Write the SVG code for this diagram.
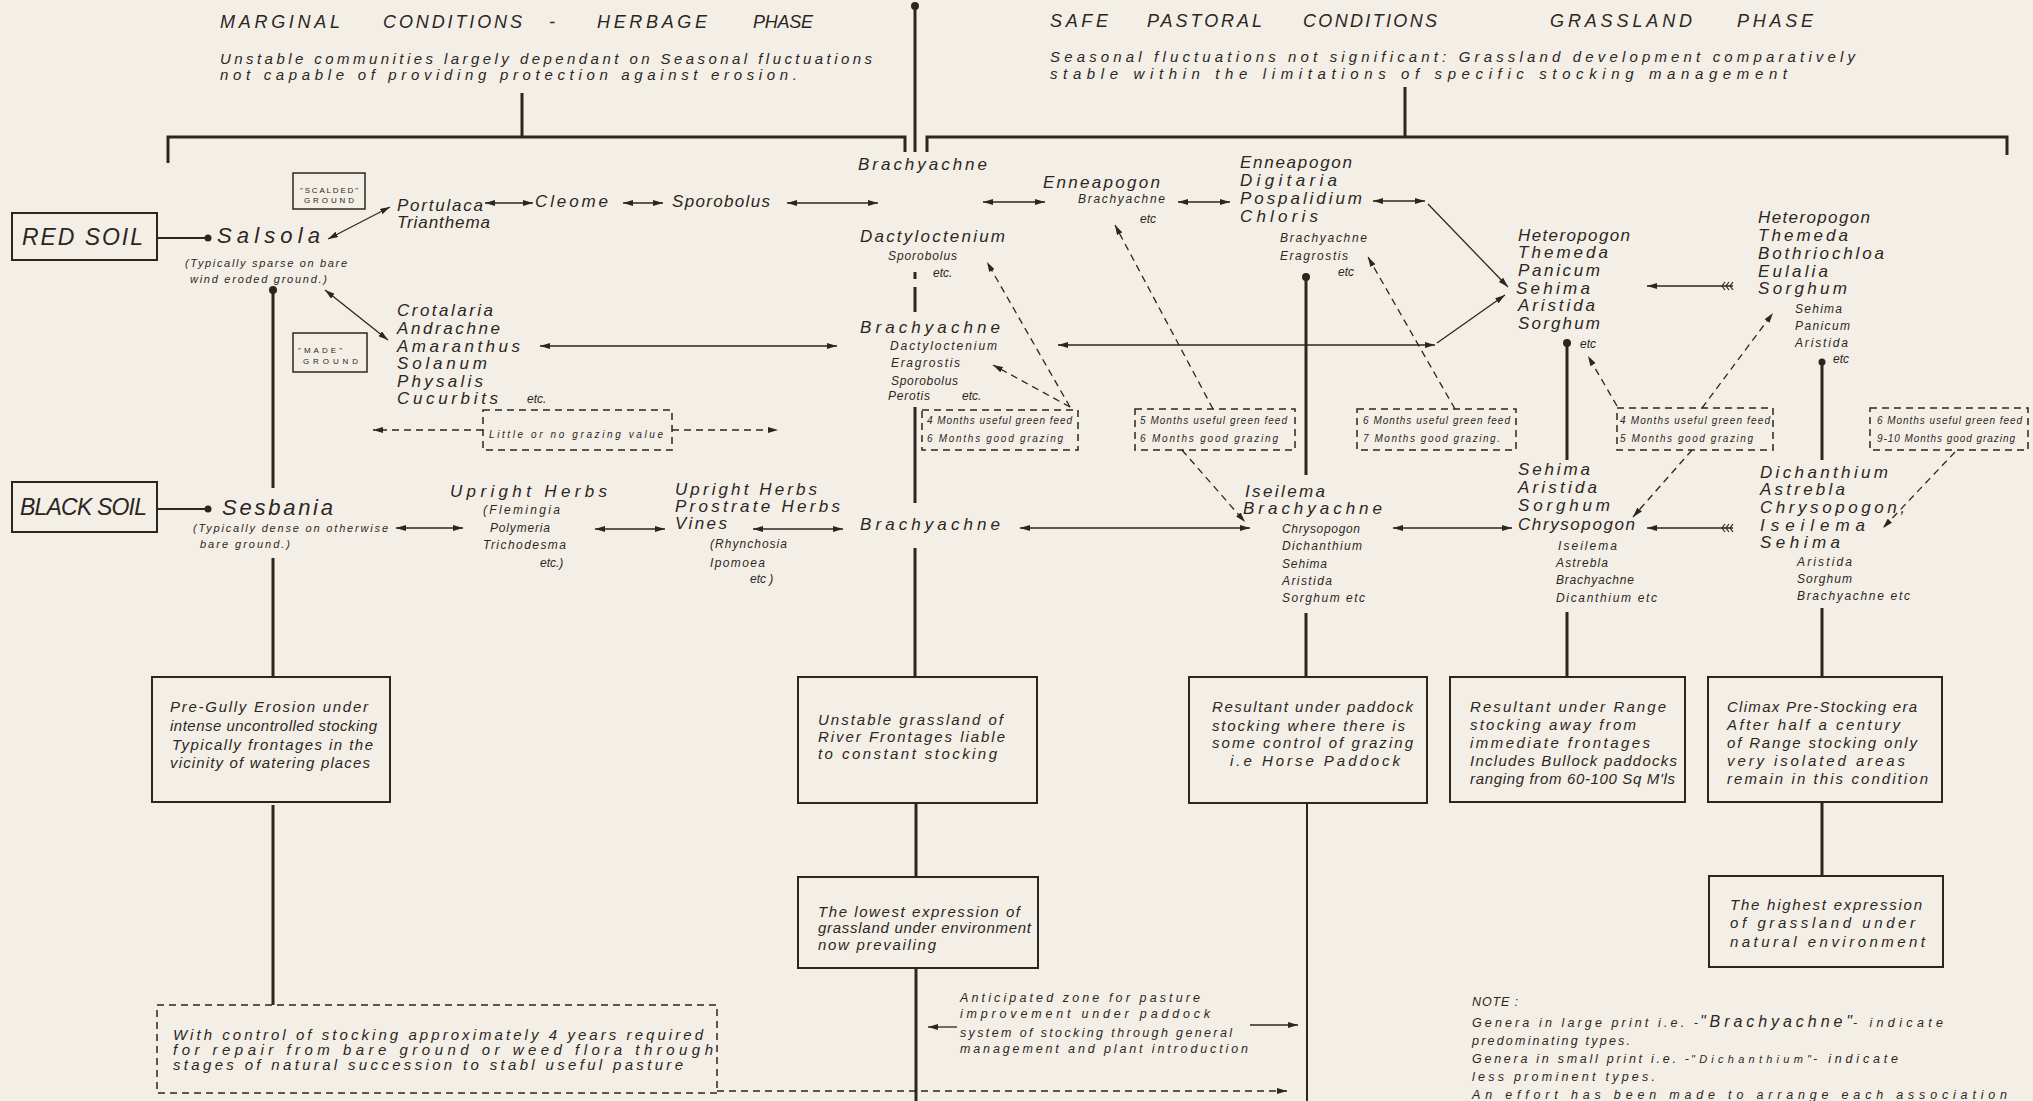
<svg xmlns="http://www.w3.org/2000/svg" width="2033" height="1101" viewBox="0 0 2033 1101">
<defs>
<style>
text{font-family:"Liberation Sans",Arial,sans-serif;font-style:italic;fill:#2b261f}
.hd{font-size:18px}
.sub{font-size:15px}
.soil{font-size:23px}
.big{font-size:22px}
.L{font-size:17px}
.S{font-size:12px}
.xs{font-size:11px}
.bx{font-size:15px}
.m{font-size:10px}
.tiny{font-size:8px;font-style:normal}
.n{font-size:12.5px}
.ln{fill:none;stroke:#2b261f}
.thick{stroke-width:3}
.med{stroke-width:2}
.thin{stroke-width:1.3}
.dash{stroke-dasharray:7 5}
.box{fill:none;stroke:#2b261f;stroke-width:2}
.sbox{fill:none;stroke:#2b261f;stroke-width:1.5}
.dbox{fill:none;stroke:#2b261f;stroke-width:1.5;stroke-dasharray:7 5}
.dot{fill:#2b261f}
.a2{marker-start:url(#ah);marker-end:url(#ah)}
.a1{marker-end:url(#ah)}
.fe{marker-start:url(#fe);marker-end:url(#ah)}
</style>
<marker id="ah" viewBox="0 0 10 6" refX="10" refY="3" markerWidth="10" markerHeight="6" markerUnits="userSpaceOnUse" orient="auto-start-reverse"><path d="M0,0 L10,3 L0,6 z" fill="#2b261f"/></marker>
<marker id="fe" viewBox="-1 -5 14 10" refX="0" refY="0" markerWidth="14" markerHeight="10" markerUnits="userSpaceOnUse" orient="auto"><path d="M0,-4 L3,0 L0,4 M4,-4 L7,0 L4,4 M8,-4 L11,0 L8,4" fill="none" stroke="#2b261f" stroke-width="1.2"/></marker>
</defs>
<rect width="2033" height="1101" fill="#f4efe6"/>

<g id="connectors">
<path class="ln thick" d="M168,163 V137 H905 V152"/>
<path class="ln thick" d="M522,93 V137"/>
<path class="ln thick" d="M915,6 V152"/>
<circle class="dot" cx="915" cy="6" r="4"/>
<path class="ln thick" d="M927,152 V137 H2007 V155"/>
<path class="ln thick" d="M1405,87 V137"/>
<path class="ln med" d="M157,238 H205"/>
<circle class="dot" cx="208" cy="238" r="3.5"/>
<path class="ln med" d="M157,509 H205"/>
<circle class="dot" cx="208" cy="509" r="3.5"/>
<path class="ln thick" d="M273,290 V488 M273,558 V677 M273,805 V1005"/>
<circle class="dot" cx="273" cy="290" r="4"/>
<path class="ln thick" d="M915,272 V279 M915,287 V312 M915,407 V503 M915,548 V677 M916,803 V877 M916,968 V1101"/>
<path class="ln thick" d="M1306,277 V475 M1306,613 V677"/>
<path class="ln med" d="M1307,803 V1101"/>
<circle class="dot" cx="1306" cy="277" r="4"/>
<path class="ln thick" d="M1567,343 V460 M1567,612 V677"/>
<circle class="dot" cx="1567" cy="343" r="4"/>
<path class="ln thick" d="M1822,362 V460 M1822,608 V677 M1822,802 V876"/>
<circle class="dot" cx="1822" cy="362" r="3.5"/>
<path class="ln thin a2" d="M328,239 L390,207"/>
<path class="ln thin a2" d="M485,203 H533"/>
<path class="ln thin a2" d="M623,203 H663"/>
<path class="ln thin a2" d="M787,203 H878"/>
<path class="ln thin a2" d="M983,202 H1045"/>
<path class="ln thin a2" d="M1178,202 H1230"/>
<path class="ln thin a2" d="M1373,201 H1425"/>
<path class="ln thin a1" d="M1428,204 L1508,287"/>
<path class="ln thin a2" d="M325,290 L388,340"/>
<path class="ln thin a2" d="M540,346 H837"/>
<path class="ln thin a2" d="M1058,345 H1435"/>
<path class="ln thin a1" d="M1437,343 L1505,295"/>
<path class="ln thin fe" d="M1733,286 H1647"/>
<path class="ln thin a2" d="M396,528 H463"/>
<path class="ln thin a2" d="M595,529 H665"/>
<path class="ln thin a2" d="M753,529 H843"/>
<path class="ln thin a2" d="M1020,528 H1250"/>
<path class="ln thin a2" d="M1393,528 H1512"/>
<path class="ln thin fe" d="M1733,528 H1647"/>
<path class="ln thin a1" d="M957,1027 H928"/>
<path class="ln thin a1" d="M1250,1025 H1298"/>
<path class="ln thin dash a1" d="M483,430 H373"/>
<path class="ln thin dash a1" d="M672,430 H778"/>
<path class="ln thin dash a1" d="M717,1091 H1287"/>
<path class="ln thin dash a1" d="M1070,407 L987,262"/>
<path class="ln thin dash a1" d="M1070,407 L993,365"/>
<path class="ln thin dash a1" d="M1213,409 L1115,225"/>
<path class="ln thin dash a1" d="M1182,450 L1245,522"/>
<path class="ln thin dash a1" d="M1455,409 L1368,257"/>
<path class="ln thin dash a1" d="M1617,406 L1588,356"/>
<path class="ln thin dash a1" d="M1702,408 L1773,313"/>
<path class="ln thin dash a1" d="M1692,450 L1633,517"/>
<path class="ln thin dash a1" d="M1955,452 L1883,528"/>
</g>

<g id="header-left">
<text class="hd" x="220" y="28" textLength="120" lengthAdjust="spacing">MARGINAL</text>
<text class="hd" x="383" y="28" textLength="139" lengthAdjust="spacing">CONDITIONS</text>
<text class="hd" x="549" y="28">-</text>
<text class="hd" x="597" y="28" textLength="110" lengthAdjust="spacing">HERBAGE</text>
<text class="hd" x="753" y="28" textLength="60" lengthAdjust="spacing">PHASE</text>
<text class="sub" x="220" y="64" textLength="652" lengthAdjust="spacing">Unstable communities largely dependant on Seasonal fluctuations</text>
<text class="sub" x="220" y="80" textLength="577" lengthAdjust="spacing">not capable of providing protection against erosion.</text>
</g>
<g id="header-right">
<text class="hd" x="1050" y="27" textLength="58" lengthAdjust="spacing">SAFE</text>
<text class="hd" x="1147" y="27" textLength="115" lengthAdjust="spacing">PASTORAL</text>
<text class="hd" x="1303" y="27" textLength="134" lengthAdjust="spacing">CONDITIONS</text>
<text class="hd" x="1550" y="27" textLength="142" lengthAdjust="spacing">GRASSLAND</text>
<text class="hd" x="1737" y="27" textLength="76" lengthAdjust="spacing">PHASE</text>
<text class="sub" x="1050" y="62" textLength="805" lengthAdjust="spacing">Seasonal fluctuations not significant: Grassland development comparatively</text>
<text class="sub" x="1050" y="79" textLength="737" lengthAdjust="spacing">stable within the limitations of specific stocking management</text>
</g>

<g id="red-soil">
<rect class="box" x="12" y="213" width="145" height="47"/>
<text class="soil" x="22" y="245" textLength="121" lengthAdjust="spacing">RED SOIL</text>
</g>
<g id="salsola">
<text class="big" x="217" y="243" textLength="103" lengthAdjust="spacing">Salsola</text>
<text class="xs" x="185" y="267" textLength="162" lengthAdjust="spacing">(Typically sparse on bare</text>
<text class="xs" x="190" y="283" textLength="137" lengthAdjust="spacing">wind eroded ground.)</text>
</g>
<g id="scalded">
<rect class="sbox" x="293" y="173" width="72" height="36"/>
<text class="tiny" x="300" y="193" textLength="58" lengthAdjust="spacing">"SCALDED"</text>
<text class="tiny" x="304" y="203" textLength="50" lengthAdjust="spacing">GROUND</text>
</g>
<g id="made">
<rect class="sbox" x="293" y="333" width="74" height="39"/>
<text class="tiny" x="298" y="353" textLength="44" lengthAdjust="spacing">"MADE"</text>
<text class="tiny" x="303" y="364" textLength="55" lengthAdjust="spacing">GROUND</text>
</g>
<g id="portulaca">
<text class="L" x="397" y="211" textLength="86" lengthAdjust="spacing">Portulaca</text>
<text class="L" x="397" y="228" textLength="93" lengthAdjust="spacing">Trianthema</text>
</g>
<g id="cleome"><text class="L" x="535" y="207" textLength="73" lengthAdjust="spacing">Cleome</text></g>
<g id="sporobolus"><text class="L" x="672" y="207" textLength="98" lengthAdjust="spacing">Sporobolus</text></g>
<g id="brachyachne-top"><text class="L" x="858" y="170" textLength="129" lengthAdjust="spacing">Brachyachne</text></g>
<g id="dactyloctenium">
<text class="L" x="860" y="242" textLength="145" lengthAdjust="spacing">Dactyloctenium</text>
<text class="S" x="888" y="260" textLength="69" lengthAdjust="spacing">Sporobolus</text>
<text class="S" x="933" y="277">etc.</text>
</g>
<g id="crotalaria">
<text class="L" x="397" y="316" textLength="96" lengthAdjust="spacing">Crotalaria</text>
<text class="L" x="397" y="334" textLength="103" lengthAdjust="spacing">Andrachne</text>
<text class="L" x="397" y="352" textLength="123" lengthAdjust="spacing">Amaranthus</text>
<text class="L" x="397" y="369" textLength="90" lengthAdjust="spacing">Solanum</text>
<text class="L" x="397" y="387" textLength="86" lengthAdjust="spacing">Physalis</text>
<text class="L" x="397" y="404" textLength="101" lengthAdjust="spacing">Cucurbits</text>
<text class="S" x="527" y="403">etc.</text>
</g>
<g id="little-value">
<rect class="dbox" x="483" y="410" width="189" height="40"/>
<text class="m" x="489" y="438" textLength="174" lengthAdjust="spacing">Little or no grazing value</text>
</g>
<g id="brachyachne-2">
<text class="L" x="860" y="333" textLength="140" lengthAdjust="spacing">Brachyachne</text>
<text class="S" x="890" y="350" textLength="107" lengthAdjust="spacing">Dactyloctenium</text>
<text class="S" x="891" y="367" textLength="69" lengthAdjust="spacing">Eragrostis</text>
<text class="S" x="891" y="385" textLength="67" lengthAdjust="spacing">Sporobolus</text>
<text class="S" x="888" y="400" textLength="42" lengthAdjust="spacing">Perotis</text>
<text class="S" x="962" y="400">etc.</text>
</g>
<g id="months-4-6">
<rect class="dbox" x="922" y="410" width="156" height="40"/>
<text class="m" x="927" y="424" textLength="145" lengthAdjust="spacing">4 Months useful green feed</text>
<text class="m" x="927" y="442" textLength="136" lengthAdjust="spacing">6 Months good grazing</text>
</g>
<g id="enneapogon-1">
<text class="L" x="1043" y="188" textLength="117" lengthAdjust="spacing">Enneapogon</text>
<text class="S" x="1078" y="203" textLength="87" lengthAdjust="spacing">Brachyachne</text>
<text class="S" x="1140" y="223">etc</text>
</g>
<g id="enneapogon-2">
<text class="L" x="1240" y="168" textLength="112" lengthAdjust="spacing">Enneapogon</text>
<text class="L" x="1240" y="186" textLength="97" lengthAdjust="spacing">Digitaria</text>
<text class="L" x="1240" y="204" textLength="122" lengthAdjust="spacing">Pospalidium</text>
<text class="L" x="1240" y="222" textLength="78" lengthAdjust="spacing">Chloris</text>
<text class="S" x="1280" y="242" textLength="87" lengthAdjust="spacing">Brachyachne</text>
<text class="S" x="1280" y="260" textLength="68" lengthAdjust="spacing">Eragrostis</text>
<text class="S" x="1338" y="276">etc</text>
</g>
<g id="months-5-6">
<rect class="dbox" x="1135" y="409" width="160" height="41"/>
<text class="m" x="1140" y="424" textLength="147" lengthAdjust="spacing">5 Months useful green feed</text>
<text class="m" x="1140" y="442" textLength="138" lengthAdjust="spacing">6 Months good grazing</text>
</g>
<g id="months-6-7">
<rect class="dbox" x="1357" y="409" width="159" height="41"/>
<text class="m" x="1363" y="424" textLength="147" lengthAdjust="spacing">6 Months useful green feed</text>
<text class="m" x="1363" y="442" textLength="137" lengthAdjust="spacing">7 Months good grazing.</text>
</g>
<g id="heteropogon-1">
<text class="L" x="1518" y="241" textLength="112" lengthAdjust="spacing">Heteropogon</text>
<text class="L" x="1518" y="258" textLength="90" lengthAdjust="spacing">Themeda</text>
<text class="L" x="1518" y="276" textLength="82" lengthAdjust="spacing">Panicum</text>
<text class="L" x="1516" y="294" textLength="74" lengthAdjust="spacing">Sehima</text>
<text class="L" x="1518" y="311" textLength="77" lengthAdjust="spacing">Aristida</text>
<text class="L" x="1518" y="329" textLength="82" lengthAdjust="spacing">Sorghum</text>
<text class="S" x="1580" y="348">etc</text>
</g>
<g id="heteropogon-2">
<text class="L" x="1758" y="223" textLength="112" lengthAdjust="spacing">Heteropogon</text>
<text class="L" x="1758" y="241" textLength="90" lengthAdjust="spacing">Themeda</text>
<text class="L" x="1758" y="259" textLength="126" lengthAdjust="spacing">Bothriochloa</text>
<text class="L" x="1758" y="277" textLength="70" lengthAdjust="spacing">Eulalia</text>
<text class="L" x="1758" y="294" textLength="89" lengthAdjust="spacing">Sorghum</text>
<text class="S" x="1795" y="313" textLength="47" lengthAdjust="spacing">Sehima</text>
<text class="S" x="1795" y="330" textLength="55" lengthAdjust="spacing">Panicum</text>
<text class="S" x="1795" y="347" textLength="53" lengthAdjust="spacing">Aristida</text>
<text class="S" x="1833" y="363">etc</text>
</g>
<g id="months-4-5">
<rect class="dbox" x="1617" y="408" width="156" height="42"/>
<text class="m" x="1620" y="424" textLength="150" lengthAdjust="spacing">4 Months useful green feed</text>
<text class="m" x="1620" y="442" textLength="133" lengthAdjust="spacing">5 Months good grazing</text>
</g>
<g id="months-6-9">
<rect class="dbox" x="1870" y="408" width="158" height="42"/>
<text class="m" x="1877" y="424" textLength="145" lengthAdjust="spacing">6 Months useful green feed</text>
<text class="m" x="1877" y="442" textLength="138" lengthAdjust="spacing">9-10 Months good grazing</text>
</g>

<g id="black-soil">
<rect class="box" x="12" y="482" width="145" height="50"/>
<text class="soil" x="20" y="515" textLength="127" lengthAdjust="spacing">BLACK SOIL</text>
</g>
<g id="sesbania">
<text class="big" x="222" y="515" textLength="111" lengthAdjust="spacing">Sesbania</text>
<text class="xs" x="193" y="532" textLength="195" lengthAdjust="spacing">(Typically dense on otherwise</text>
<text class="xs" x="200" y="548" textLength="90" lengthAdjust="spacing">bare ground.)</text>
</g>
<g id="upright-herbs-1">
<text class="L" x="450" y="497" textLength="157" lengthAdjust="spacing">Upright Herbs</text>
<text class="S" x="483" y="514" textLength="77" lengthAdjust="spacing">(Flemingia</text>
<text class="S" x="490" y="532" textLength="60" lengthAdjust="spacing">Polymeria</text>
<text class="S" x="483" y="549" textLength="83" lengthAdjust="spacing">Trichodesma</text>
<text class="S" x="540" y="567">etc.)</text>
</g>
<g id="upright-herbs-2">
<text class="L" x="675" y="495" textLength="142" lengthAdjust="spacing">Upright Herbs</text>
<text class="L" x="675" y="512" textLength="165" lengthAdjust="spacing">Prostrate Herbs</text>
<text class="L" x="675" y="529" textLength="52" lengthAdjust="spacing">Vines</text>
<text class="S" x="710" y="548" textLength="77" lengthAdjust="spacing">(Rhynchosia</text>
<text class="S" x="710" y="567" textLength="55" lengthAdjust="spacing">Ipomoea</text>
<text class="S" x="750" y="583">etc )</text>
</g>
<g id="brachyachne-3"><text class="L" x="860" y="530" textLength="140" lengthAdjust="spacing">Brachyachne</text></g>
<g id="iseilema">
<text class="L" x="1245" y="497" textLength="80" lengthAdjust="spacing">Iseilema</text>
<text class="L" x="1243" y="514" textLength="139" lengthAdjust="spacing">Brachyachne</text>
<text class="S" x="1282" y="533" textLength="78" lengthAdjust="spacing">Chrysopogon</text>
<text class="S" x="1282" y="550" textLength="80" lengthAdjust="spacing">Dichanthium</text>
<text class="S" x="1282" y="568" textLength="45" lengthAdjust="spacing">Sehima</text>
<text class="S" x="1282" y="585" textLength="50" lengthAdjust="spacing">Aristida</text>
<text class="S" x="1282" y="602" textLength="83" lengthAdjust="spacing">Sorghum etc</text>
</g>
<g id="sehima">
<text class="L" x="1518" y="475" textLength="72" lengthAdjust="spacing">Sehima</text>
<text class="L" x="1518" y="493" textLength="79" lengthAdjust="spacing">Aristida</text>
<text class="L" x="1518" y="511" textLength="92" lengthAdjust="spacing">Sorghum</text>
<text class="L" x="1518" y="530" textLength="117" lengthAdjust="spacing">Chrysopogon</text>
<text class="S" x="1558" y="550" textLength="59" lengthAdjust="spacing">Iseilema</text>
<text class="S" x="1556" y="567" textLength="52" lengthAdjust="spacing">Astrebla</text>
<text class="S" x="1556" y="584" textLength="78" lengthAdjust="spacing">Brachyachne</text>
<text class="S" x="1556" y="602" textLength="101" lengthAdjust="spacing">Dicanthium etc</text>
</g>
<g id="dichanthium">
<text class="L" x="1760" y="478" textLength="128" lengthAdjust="spacing">Dichanthium</text>
<text class="L" x="1760" y="495" textLength="85" lengthAdjust="spacing">Astrebla</text>
<text class="L" x="1760" y="513" textLength="145" lengthAdjust="spacing">Chrysopogon,</text>
<text class="L" x="1760" y="531" textLength="105" lengthAdjust="spacing">Iseilema</text>
<text class="L" x="1760" y="548" textLength="80" lengthAdjust="spacing">Sehima</text>
<text class="S" x="1797" y="566" textLength="55" lengthAdjust="spacing">Aristida</text>
<text class="S" x="1797" y="583" textLength="55" lengthAdjust="spacing">Sorghum</text>
<text class="S" x="1797" y="600" textLength="113" lengthAdjust="spacing">Brachyachne etc</text>
</g>

<g id="box-pre-gully">
<rect class="box" x="152" y="677" width="238" height="125"/>
<text class="bx" x="170" y="712" textLength="198" lengthAdjust="spacing">Pre-Gully Erosion under</text>
<text class="bx" x="170" y="731" textLength="207" lengthAdjust="spacing">intense uncontrolled stocking</text>
<text class="bx" x="172" y="750" textLength="201" lengthAdjust="spacing">Typically frontages in the</text>
<text class="bx" x="170" y="768" textLength="200" lengthAdjust="spacing">vicinity of watering places</text>
</g>
<g id="box-unstable">
<rect class="box" x="798" y="677" width="239" height="126"/>
<text class="bx" x="818" y="725" textLength="185" lengthAdjust="spacing">Unstable grassland of</text>
<text class="bx" x="818" y="742" textLength="187" lengthAdjust="spacing">River Frontages liable</text>
<text class="bx" x="818" y="759" textLength="179" lengthAdjust="spacing">to constant stocking</text>
</g>
<g id="box-lowest">
<rect class="box" x="798" y="877" width="240" height="91"/>
<text class="bx" x="818" y="917" textLength="202" lengthAdjust="spacing">The lowest expression of</text>
<text class="bx" x="818" y="933" textLength="213" lengthAdjust="spacing">grassland under environment</text>
<text class="bx" x="818" y="950" textLength="118" lengthAdjust="spacing">now prevailing</text>
</g>
<g id="box-paddock">
<rect class="box" x="1189" y="677" width="238" height="126"/>
<text class="bx" x="1212" y="712" textLength="201" lengthAdjust="spacing">Resultant under paddock</text>
<text class="bx" x="1212" y="731" textLength="193" lengthAdjust="spacing">stocking where there is</text>
<text class="bx" x="1212" y="748" textLength="201" lengthAdjust="spacing">some control of grazing</text>
<text class="bx" x="1230" y="766" textLength="170" lengthAdjust="spacing">i.e Horse Paddock</text>
</g>
<g id="box-range">
<rect class="box" x="1450" y="677" width="235" height="125"/>
<text class="bx" x="1470" y="712" textLength="196" lengthAdjust="spacing">Resultant under Range</text>
<text class="bx" x="1470" y="730" textLength="166" lengthAdjust="spacing">stocking away from</text>
<text class="bx" x="1470" y="748" textLength="180" lengthAdjust="spacing">immediate frontages</text>
<text class="bx" x="1470" y="766" textLength="207" lengthAdjust="spacing">Includes Bullock paddocks</text>
<text class="bx" x="1470" y="784" textLength="205" lengthAdjust="spacing">ranging from 60-100 Sq M'ls</text>
</g>
<g id="box-climax">
<rect class="box" x="1708" y="677" width="234" height="125"/>
<text class="bx" x="1727" y="712" textLength="190" lengthAdjust="spacing">Climax Pre-Stocking era</text>
<text class="bx" x="1727" y="730" textLength="173" lengthAdjust="spacing">After half a century</text>
<text class="bx" x="1727" y="748" textLength="190" lengthAdjust="spacing">of Range stocking only</text>
<text class="bx" x="1727" y="766" textLength="178" lengthAdjust="spacing">very isolated areas</text>
<text class="bx" x="1727" y="784" textLength="201" lengthAdjust="spacing">remain in this condition</text>
</g>
<g id="box-highest">
<rect class="box" x="1709" y="876" width="234" height="91"/>
<text class="bx" x="1730" y="910" textLength="192" lengthAdjust="spacing">The highest expression</text>
<text class="bx" x="1730" y="928" textLength="185" lengthAdjust="spacing">of grassland under</text>
<text class="bx" x="1730" y="947" textLength="195" lengthAdjust="spacing">natural environment</text>
</g>
<g id="box-repair">
<rect class="dbox" x="157" y="1005" width="560" height="88"/>
<text class="sub" x="173" y="1040" textLength="530" lengthAdjust="spacing">With control of stocking approximately 4 years required</text>
<text class="sub" x="173" y="1055" textLength="540" lengthAdjust="spacing">for repair from bare ground or weed flora through</text>
<text class="sub" x="173" y="1070" textLength="510" lengthAdjust="spacing">stages of natural succession to stabl useful pasture</text>
</g>
<g id="anticipated">
<text class="n" x="960" y="1002" textLength="240" lengthAdjust="spacing">Anticipated zone for pasture</text>
<text class="n" x="960" y="1018" textLength="250" lengthAdjust="spacing">improvement under paddock</text>
<text class="n" x="960" y="1037" textLength="272" lengthAdjust="spacing">system of stocking through general</text>
<text class="n" x="960" y="1053" textLength="288" lengthAdjust="spacing">management and plant introduction</text>
</g>
<g id="note">
<text class="n" x="1472" y="1006" textLength="46" lengthAdjust="spacing">NOTE :</text>
<text class="n" x="1472" y="1027" textLength="226" lengthAdjust="spacing">Genera in large print i.e. -</text>
<text x="1700" y="1027" style="font-size:16px" textLength="152" lengthAdjust="spacing">"Brachyachne"</text>
<text class="n" x="1853" y="1027" textLength="90" lengthAdjust="spacing">- indicate</text>
<text class="n" x="1472" y="1045" textLength="158" lengthAdjust="spacing">predominating types.</text>
<text class="n" x="1472" y="1063" textLength="217" lengthAdjust="spacing">Genera in small print i.e. -</text>
<text x="1691" y="1063" style="font-size:11px" textLength="120" lengthAdjust="spacing">"Dichanthium"</text>
<text class="n" x="1813" y="1063" textLength="85" lengthAdjust="spacing">- indicate</text>
<text class="n" x="1472" y="1081" textLength="183" lengthAdjust="spacing">less prominent types.</text>
<text class="n" x="1472" y="1099" textLength="535" lengthAdjust="spacing">An effort has been made to arrange each association</text>
</g>
</svg>
